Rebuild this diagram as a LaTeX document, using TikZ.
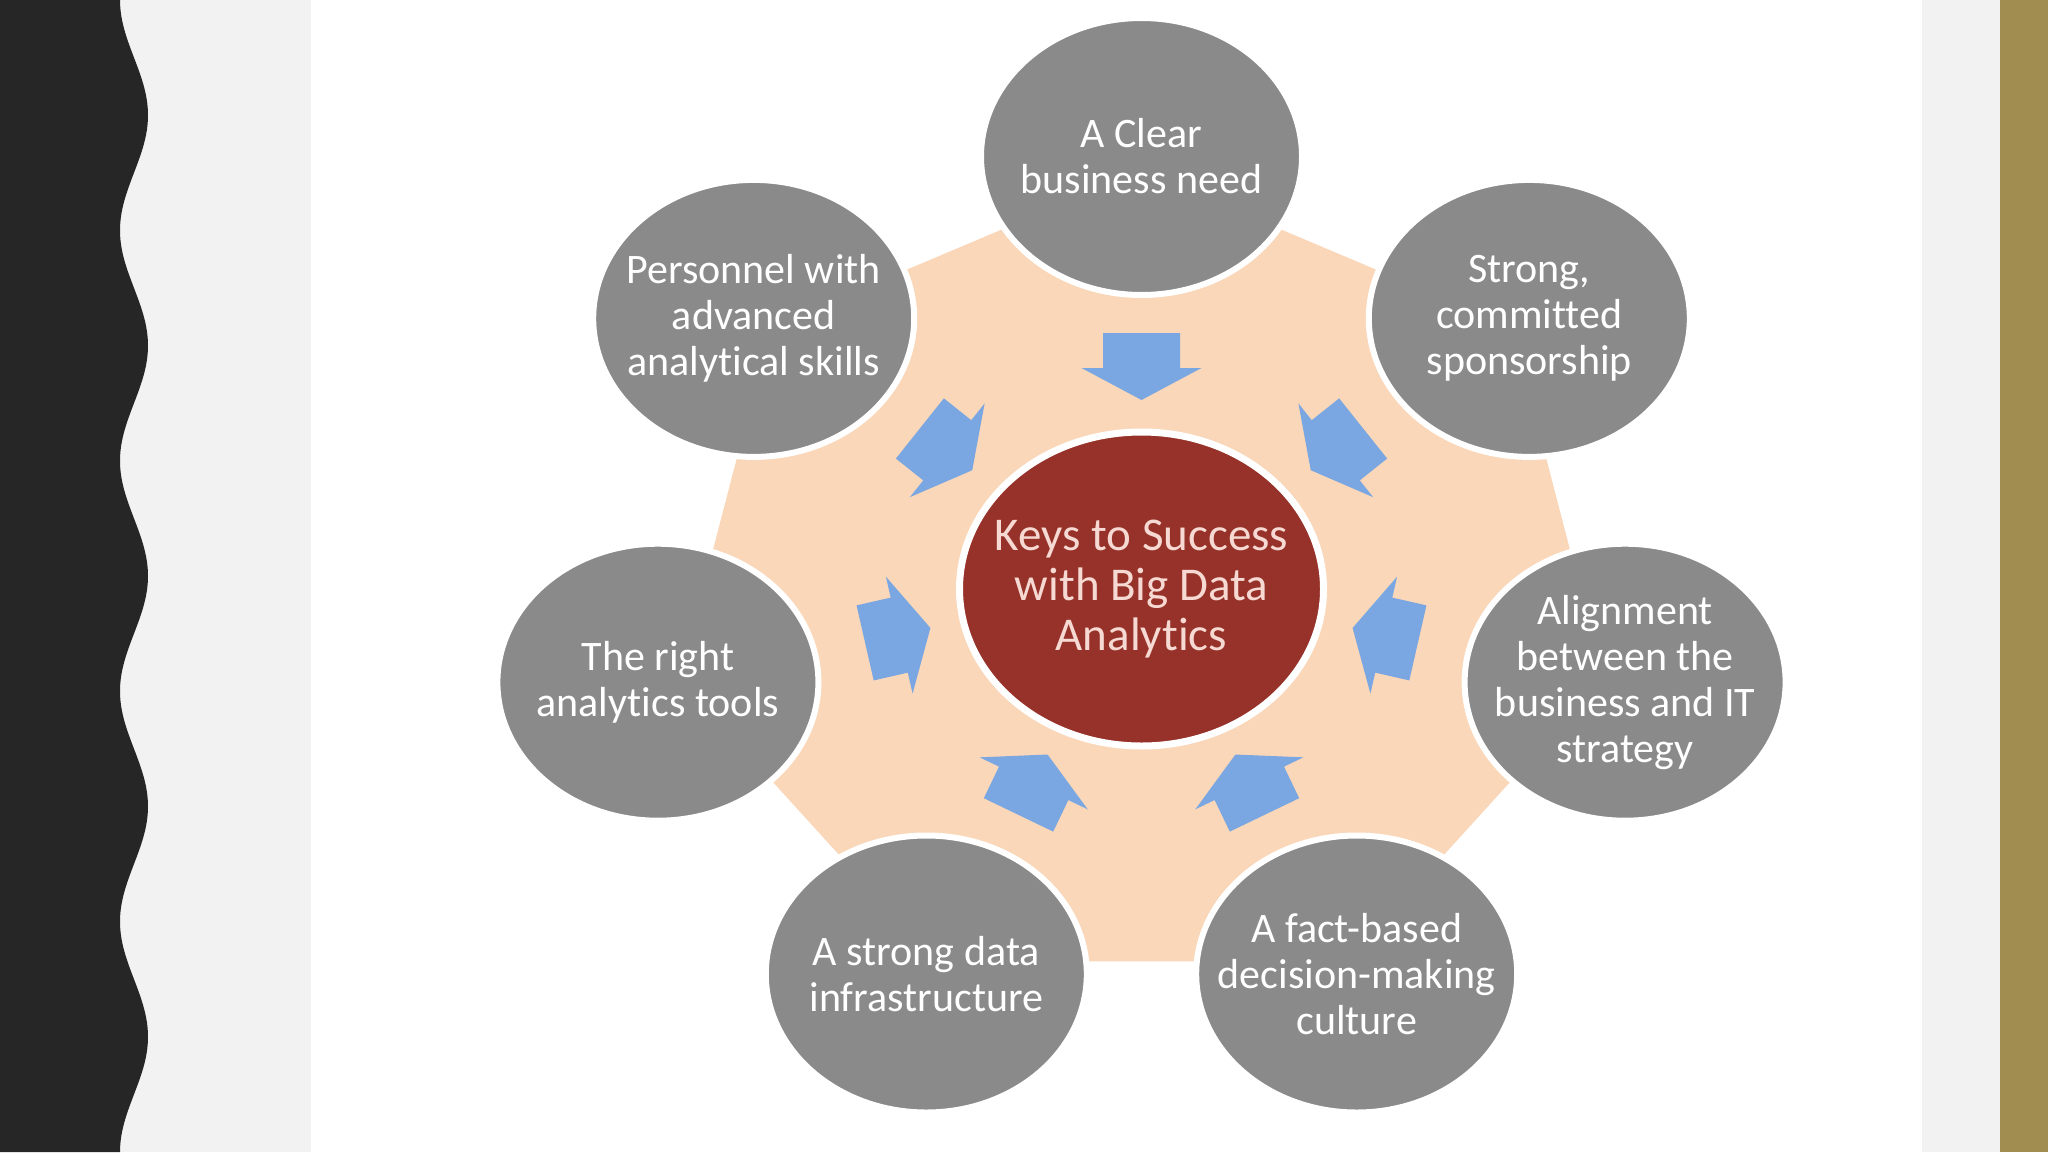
\documentclass[tikz,border=0pt]{standalone}
\usepackage{fontspec}
\setmainfont{Carlito}[Ligatures=NoCommon]
\usetikzlibrary{shapes.geometric}
\definecolor{blackstrip}{HTML}{262626}
\definecolor{lightbg}{HTML}{F2F2F2}
\definecolor{goldbar}{HTML}{A28D50}
\definecolor{peach}{HTML}{FAD7B9}
\definecolor{graycirc}{HTML}{8A8A8A}
\definecolor{darkred}{HTML}{963229}
\definecolor{pinktext}{HTML}{F6D9D2}
\definecolor{arrowblue}{HTML}{7AA7E1}
\tikzset{
  grayell/.style={ellipse, fill=graycirc, draw=white, line width=6pt, minimum width=321pt, minimum height=277pt, inner sep=0pt},
  graytext/.style={align=center, text=white, font=\fontsize{42}{46}\selectfont, inner sep=0pt},
  centreell/.style={ellipse, fill=darkred, draw=white, line width=7pt, minimum width=364pt, minimum height=314pt, inner sep=0pt},
  centretext/.style={align=center, text=pinktext, font=\fontsize{47}{50}\selectfont, inner sep=0pt},
  blockarrow/.style={fill=arrowblue}
}
\begin{document}
\begin{tikzpicture}[x=1pt,y=-1pt]
\useasboundingbox (0,0) rectangle (2048,1152);
% backgrounds
\fill[lightbg] (0,0) rectangle (2048,1152);
\fill[white] (311,0) rectangle (1922,1152);
\fill[goldbar] (2000,0) rectangle (2048,1152);
\fill[blackstrip] (0,0) -- plot[variable=\t, domain=0:1800, samples=301] ({134-14*cos(\t)},{\t/1.5625}) -- (0,1152) -- cycle;
% peach heptagon
\fill[peach] (1141.5,170.5) -- (1512.1,327.1) -- (1603.6,679.1) -- (1347.2,961.3)
  -- (935.8,961.3) -- (679.4,679.1) -- (770.9,327.1) -- cycle;
% block arrows pointing to the centre
\foreach \k in {0,...,6}{
  \pgfmathsetmacro\th{\k*360/7}
  \fill[blockarrow, shift={({1141.5+250*sin(\th)},{586.5-220*cos(\th)})}, rotate=-\th]
    (-38.5,-33.5) -- (38.5,-33.5) -- (38.5,1.5) -- (60,1.5) -- (0,33.5) -- (-60,1.5) -- (-38.5,1.5) -- cycle;
}
% centre
\node[centreell] (centre) at (1141.5,589) {};
\node[centretext] (centretxt) at (centre) {Keys to Success\\with Big Data\\Analytics};
% outer ellipses
\node[grayell] (c0) at (1141.5,156.5) {};
\node[grayell] (c1) at (1529.3,318.4) {};
\node[grayell] (c2) at (1625.1,682.2) {};
\node[grayell] (c3) at (1356.7,974.0) {};
\node[grayell] (c4) at (926.3,974.0) {};
\node[grayell] (c5) at (657.9,682.2) {};
\node[grayell] (c6) at (753.7,318.4) {};
\node[graytext] (t0) at (c0) {A Clear\\business need};
\node[graytext] (t1) at (c1) {Strong,\\committed\\sponsorship};
\node[graytext] (t2) at (c2) {Alignment\\between the\\business and IT\\strategy};
\node[graytext] (t3) at (c3) {A fact-based\\decision-making\\culture};
\node[graytext] (t4) at (c4) {A strong data\\infrastructure};
\node[graytext] (t5) at (c5) {The right\\analytics tools};
\node[graytext] (t6) at (c6) {Personnel with\\advanced\\analytical skills};
\end{tikzpicture}
\end{document}
